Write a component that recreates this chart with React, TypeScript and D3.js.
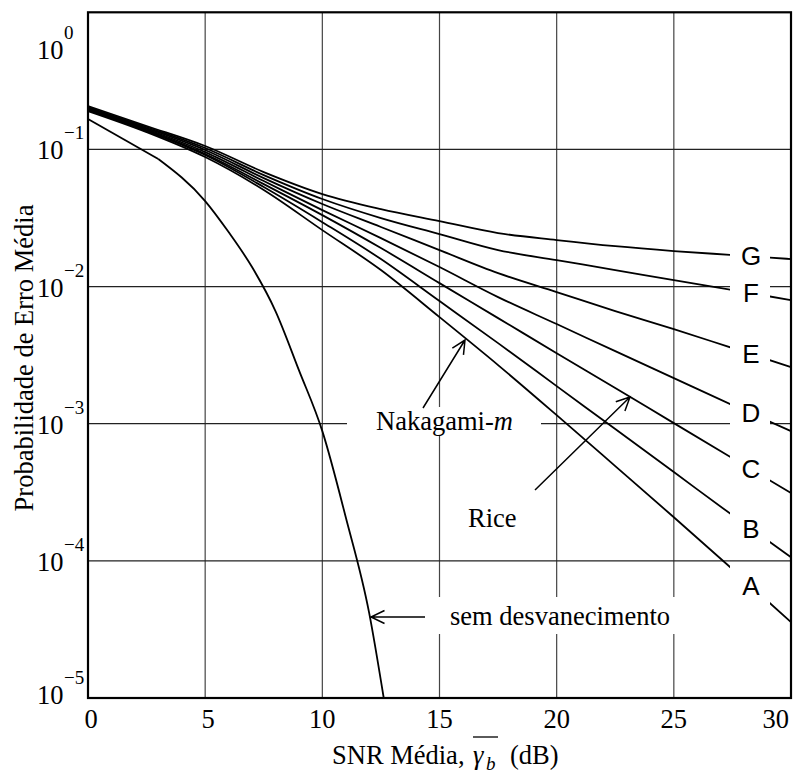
import React from 'react';
import * as d3 from 'd3';

// SNR grid (dB) for the fading curves
const snrDb = [0, 2.5, 5, 7.5, 10, 12.5, 15, 17.5, 20, 22.5, 25, 27.5, 30];

// Average bit error probability, curves A..G
const curveA = [0.1906, 0.1339, 0.088, 0.0506, 0.0258, 0.0132, 0.00599, 0.002676, 0.001155, 0.000491, 0.000208, 0.000087, 0.0000357];
const curveB = [0.1938, 0.1362, 0.091, 0.0532, 0.0295, 0.01587, 0.00784, 0.00387, 0.00188, 0.000914, 0.000444, 0.000215, 0.0001064];
const curveC = [0.1971, 0.1385, 0.0926, 0.0559, 0.0332, 0.0191, 0.0106, 0.00589, 0.00327, 0.00182, 0.00101, 0.000561, 0.000312];
const curveD = [0.2004, 0.1409, 0.0957, 0.0588, 0.0361, 0.02258, 0.01388, 0.00838, 0.00533, 0.00338, 0.00215, 0.001367, 0.000883];
const curveE = [0.2004, 0.1432, 0.099, 0.0618, 0.04, 0.0272, 0.01846, 0.01254, 0.00912, 0.00663, 0.0049, 0.00356, 0.00259];
const curveF = [0.2038, 0.1457, 0.1024, 0.065, 0.0435, 0.0316, 0.02415, 0.01846, 0.0156, 0.0132, 0.01115, 0.00943, 0.00797];
const curveG = [0.2073, 0.1482, 0.1059, 0.0684, 0.0473, 0.0367, 0.03, 0.02456, 0.02184, 0.0197, 0.01816, 0.01698, 0.01588];

const curveNames = ['A', 'B', 'C', 'D', 'E', 'F', 'G'];
const curveValues = [curveA, curveB, curveC, curveD, curveE, curveF, curveG];

// No fading (AWGN) curve
const noFadeDb = [0, 3, 5, 6, 7, 8, 9, 10, 11, 12, 12.62];
const noFadeP = [0.1666, 0.0851, 0.04204, 0.02497, 0.01388, 0.00663, 0.00246, 0.000883, 0.000208, 0.0000416, 0.00001];

const xTicks = [0, 5, 10, 15, 20, 25, 30];
const yTickExps = [0, -1, -2, -3, -4, -5];
const gridX = [5, 10, 15, 20, 25];
const gridYExps = [-1, -2, -3, -4];
const cutGridExps = [-2, -3];

const W = 793;
const H = 774;
const PL = 88, PR = 791, PT = 12.3, PB = 698;
const GAP0 = 730, GAP1 = 770;
const SERIF = '"Liberation Serif", "Times New Roman", serif';
const SANS = '"Liberation Sans", Arial, sans-serif';

function arrowPath(x1: number, y1: number, x2: number, y2: number) {
  const a = Math.atan2(y2 - y1, x2 - x1);
  const L = 15, s = 0.45;
  const b1x = x2 - L * Math.cos(a - s), b1y = y2 - L * Math.sin(a - s);
  const b2x = x2 - L * Math.cos(a + s), b2y = y2 - L * Math.sin(a + s);
  return `M${x1},${y1}L${x2},${y2}M${b1x},${b1y}L${x2},${y2}L${b2x},${b2y}`;
}

export default function App() {
  const x = d3.scaleLinear().domain([0, 30]).range([PL, PR]);
  const y = d3.scaleLog().domain([1e-5, 1]).range([PB, PT]);
  const line = d3.line<[number, number]>().x(d => x(d[0])).y(d => y(d[1])).curve(d3.curveMonotoneX);
  const lineLin = d3.line<[number, number]>().x(d => x(d[0])).y(d => y(d[1]));

  const interpAt = (vals: number[], db: number) => {
    const i = Math.min(snrDb.length - 2, Math.max(0, d3.bisectRight(snrDb, db) - 1));
    const t = (db - snrDb[i]) / (snrDb[i + 1] - snrDb[i]);
    return Math.pow(10, Math.log10(vals[i]) * (1 - t) + Math.log10(vals[i + 1]) * t);
  };
  const labelDb = x.invert(751);

  const noFadePts = noFadeDb.map((d, i) => [d, noFadeP[i]] as [number, number]);

  const fs = 26.5;
  const txt = { fontFamily: SERIF, fontSize: fs, fill: '#000' } as const;

  return (
    <div style={{ position: 'absolute', left: 0, top: 0 }}>
      <svg width={W} height={H} style={{ display: 'block', background: '#fff' }}>
        <defs>
          <clipPath id="gap">
            <rect x={0} y={0} width={GAP0} height={H} />
            <rect x={GAP1} y={0} width={W - GAP1} height={H} />
          </clipPath>
        </defs>
        <rect x={0} y={0} width={W} height={H} fill="#fff" />
        {/* grid */}
        {gridX.map(v => (
          <line key={'gx' + v} x1={x(v)} x2={x(v)} y1={PT} y2={PB} stroke="#444" strokeWidth={1.2} />
        ))}
        {gridYExps.map(e => (
          <line key={'gy' + e} x1={PL} x2={PR} y1={y(Math.pow(10, e))} y2={y(Math.pow(10, e))}
            stroke="#222" strokeWidth={1.2}
            clipPath={cutGridExps.includes(e) ? 'url(#gap)' : undefined} />
        ))}
        {/* white boxes behind annotations */}
        <rect x={347} y={407} width={194} height={29} fill="#fff" />
        <rect x={432} y={597} width={258} height={37} fill="#fff" />

        {/* fading curves */}
        <g clipPath="url(#gap)">
          {curveValues.map((vals, k) => (
            <path key={curveNames[k]} d={line(snrDb.map((d, i) => [d, vals[i]] as [number, number])) || ''}
              fill="none" stroke="#000" strokeWidth={1.8} />
          ))}
        </g>
        {/* no fading: straight first segment, smooth afterwards */}
        <path d={lineLin(noFadePts.slice(0, 2)) || ''} fill="none" stroke="#000" strokeWidth={1.8} />
        <path d={line(noFadePts.slice(1)) || ''} fill="none" stroke="#000" strokeWidth={1.8} />

        {/* frame */}
        <rect x={PL} y={PT} width={PR - PL} height={PB - PT} fill="none" stroke="#000" strokeWidth={2.2} />

        {/* curve letters */}
        {curveValues.map((vals, k) => (
          <text key={'l' + k} x={751} y={y(interpAt(vals, labelDb))} textAnchor="middle" dominantBaseline="central"
            fontFamily={SANS} fontSize={26}>{curveNames[k]}</text>
        ))}

        {/* x ticks */}
        {xTicks.map(t => (
          <text key={'xt' + t} x={t === 30 ? x(t) - 2 : x(t) + (t < 10 ? 3 : 0)} y={728}
            textAnchor={t === 30 ? 'end' : 'middle'} {...txt}>{t}</text>
        ))}
        {/* y ticks */}
        {yTickExps.map(e => {
          const b = Math.min(704, Math.max(59, y(Math.pow(10, e)) + 10));
          return (
            <g key={'yt' + e}>
              <text x={37} y={b} {...txt}>10</text>
              <text x={64} y={b - 20} fontFamily={SERIF} fontSize={19}>{e === 0 ? '0' : '\u2212' + Math.abs(e)}</text>
            </g>
          );
        })}

        {/* axis titles */}
        <text x={332} y={764} {...txt}>SNR Média,</text>
        <text x={473} y={764} {...txt} fontStyle="italic">γ</text>
        <text x={486} y={770} fontFamily={SERIF} fontSize={19} fontStyle="italic">b</text>
        <line x1={473} x2={498} y1={737} y2={737} stroke="#000" strokeWidth={1.3} />
        <text x={510} y={764} {...txt}>(dB)</text>

        <text transform={`translate(33,${358}) rotate(-90)`} textAnchor="middle" {...txt}>Probabilidade de Erro Média</text>

        {/* annotations */}
        <text x={376} y={430} {...txt}>Nakagami-<tspan fontStyle="italic">m</tspan></text>
        <path d={arrowPath(423, 408, 465, 340)} fill="none" stroke="#000" strokeWidth={1.5} />
        <text x={468} y={527} {...txt}>Rice</text>
        <path d={arrowPath(535, 490, 630, 397)} fill="none" stroke="#000" strokeWidth={1.5} />
        <text x={450} y={625} {...txt}>sem desvanecimento</text>
        <path d={arrowPath(425, 617, 371, 617)} fill="none" stroke="#000" strokeWidth={1.5} />
      </svg>
    </div>
  );
}
